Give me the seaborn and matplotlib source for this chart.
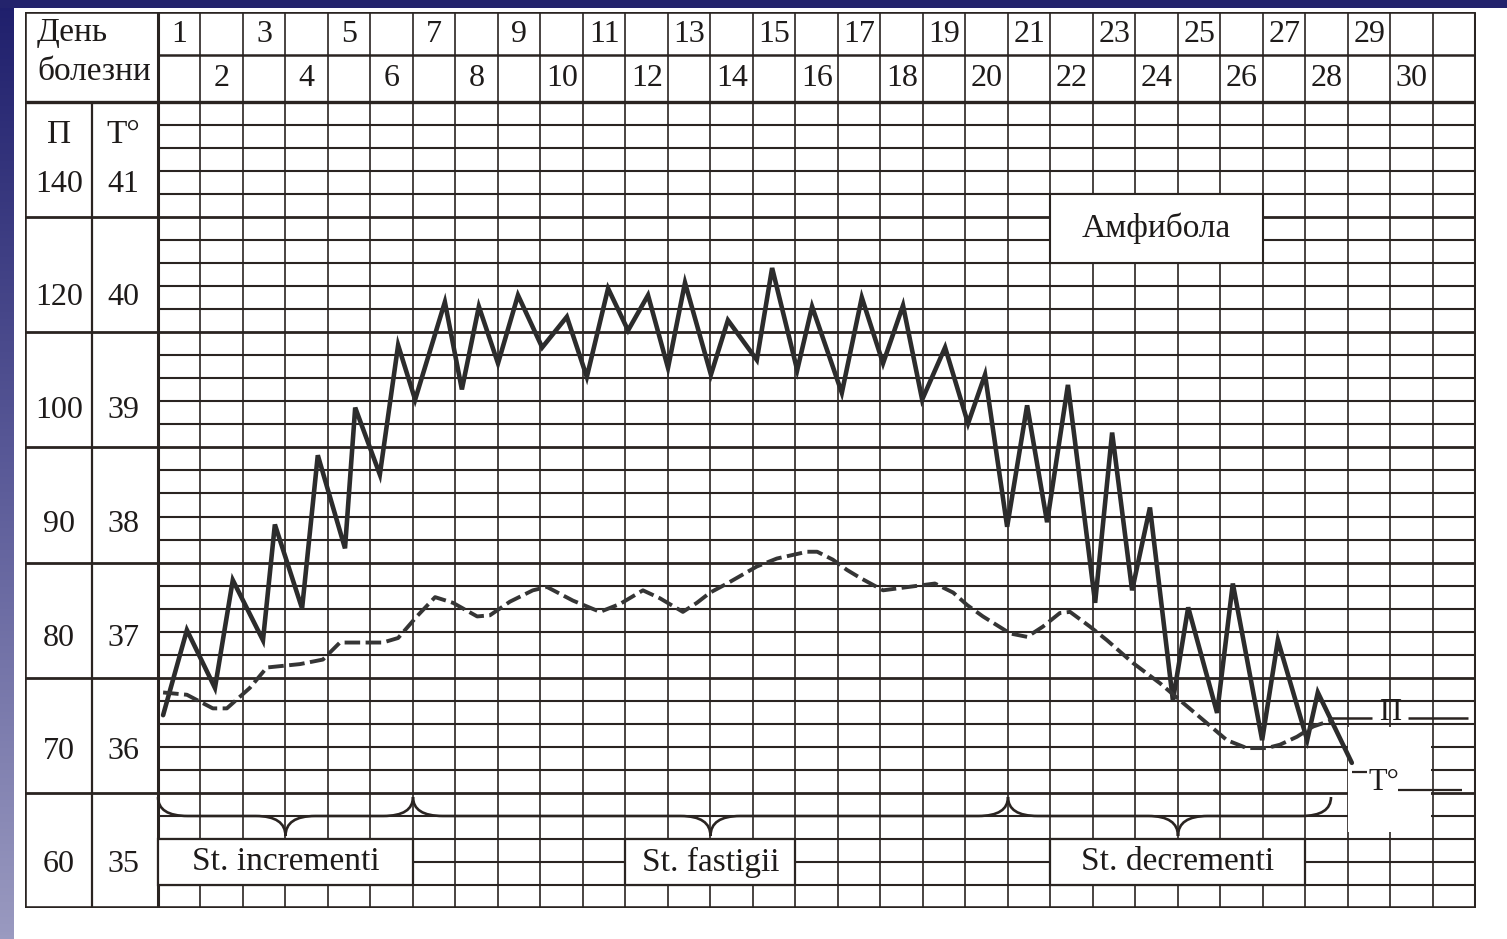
import numpy as np
import pandas as pd
import matplotlib
matplotlib.use("Agg")
import matplotlib.pyplot as plt
import seaborn as sns
from matplotlib.patches import Rectangle, PathPatch
from matplotlib.path import Path
from matplotlib.colors import LinearSegmentedColormap

# ---------------- data ----------------
day_numbers = list(range(1, 31))
pulse_scale = [60, 70, 80, 90, 100, 120, 140]
temp_scale = [35, 36, 37, 38, 39, 40, 41]

# temperature curve (zig-zag), time in days since onset, value in deg C
temp_time = [0.12, 0.68, 1.34, 1.76, 2.47, 2.75, 3.39, 3.76, 4.40, 4.64,
             5.22, 5.65, 6.05, 6.75, 7.15, 7.55, 8.00, 8.47, 9.04, 9.62,
             10.09, 10.59, 11.06, 11.53, 12.00, 12.40, 13.01, 13.41, 14.09, 14.45,
             15.04, 15.39, 16.09, 16.56, 17.06, 17.53, 17.98, 18.52, 19.06, 19.46,
             19.98, 20.45, 20.92, 21.41, 22.05, 22.45, 22.92, 23.34, 23.88, 24.24,
             24.92, 25.29, 25.98, 26.35, 27.04, 27.29, 28.09]
temp_values = [36.32, 37.07, 36.56, 37.51, 36.98, 38.00, 37.26, 38.61, 37.79, 39.03,
               38.44, 39.58, 39.10, 39.96, 39.19, 39.92, 39.42, 40.02, 39.56, 39.83,
               39.30, 40.08, 39.71, 40.02, 39.38, 40.13, 39.32, 39.80, 39.45, 40.26,
               39.36, 39.92, 39.16, 40.00, 39.42, 39.93, 39.10, 39.56, 38.89, 39.32,
               37.98, 39.05, 38.02, 39.23, 37.31, 38.81, 37.42, 38.15, 36.45, 37.27,
               36.34, 37.48, 36.10, 36.98, 36.10, 36.52, 35.90]

# pulse curve (dashed), beats per minute
pulse_time = [0.12, 0.68, 1.29, 1.62, 2.16, 2.56, 3.34, 3.88, 4.28, 5.29,
              5.65, 6.09, 6.52, 6.94, 7.51, 7.81, 8.28, 8.82, 9.15, 9.76,
              10.40, 10.87, 11.41, 11.81, 12.35, 12.68, 12.99, 13.39, 14.09, 14.56,
              15.27, 15.51, 15.88, 16.21, 16.52, 17.06, 17.46, 18.28, 18.71, 19.04,
              19.41, 20.05, 20.45, 20.82, 21.22, 21.46, 21.93, 22.33, 22.94, 23.58,
              24.05, 24.68, 25.15, 25.62, 26.09, 26.40, 26.80, 27.18, 27.65]
pulse_values = [75.2, 75.0, 73.8, 73.8, 75.6, 77.4, 77.7, 78.1, 79.6, 79.6,
                80.0, 81.9, 83.6, 83.1, 81.9, 82.0, 83.2, 84.2, 84.5, 83.3,
                82.3, 83.0, 84.2, 83.5, 82.3, 83.1, 84.0, 84.8, 86.3, 87.0,
                87.6, 87.6, 86.9, 86.0, 85.3, 84.2, 84.4, 84.8, 84.0, 82.9,
                81.9, 80.4, 80.1, 81.0, 82.2, 82.3, 81.0, 79.8, 77.8, 76.0,
                74.5, 72.5, 71.0, 70.3, 70.3, 70.6, 71.3, 72.2, 72.8]

header_title = ["День", "болезни"]
pulse_header, temp_header = "П", "T°"
amphibole_label = "Амфибола"
amphibole_days = (21, 26)
stage_names = ["St. incrementi", "St. fastigii", "St. decrementi"]
stage_braces = [(0, 6, 3), (6, 20, 13), (20, 27.6, 24)]
stage_label_days = [(0, 6), (11, 15), (21, 27)]

# ---------------- geometry (pixels on the 1507x939 canvas) ----------------
W, H = 1507, 939
PX_X0, PX_DAY = 158.0, 42.5      # left edge of day 1 column, column width
PX_T37, PX_DEG = 638.0, 113.5    # row of 37 degC, pixels per degree


def X(px):
    return (px - PX_X0) / PX_DAY


def Y(py):
    return 37 + (PX_T37 - py) / PX_DEG


sns.set_theme(style="white")
plt.rcParams["font.family"] = ["Liberation Serif", "DejaVu Serif"]

INK = "#2a2421"
TXT = "#1e1b1a"

fig = plt.figure(figsize=(W / 100, H / 100), dpi=100)
fig.patch.set_facecolor("white")

# blue slide frame
gx = fig.add_axes([0, 0, 14 / W, 1])
gx.axis("off")
cmap = LinearSegmentedColormap.from_list("frame", ["#1f1f6c", "#5a5a98", "#9a9ac0"])
gx.imshow(np.linspace(0, 1, 256).reshape(-1, 1), aspect="auto", cmap=cmap,
          extent=[0, 1, 0, 1], origin="upper")
fig.add_artist(Rectangle((0, 1 - 8 / H), 1, 8 / H, transform=fig.transFigure,
                         facecolor="#23236c", edgecolor="none"))

L, R, T, B = 25, 1475.5, 12, 908
ax = fig.add_axes([L / W, 1 - B / H, (R - L) / W, (B - T) / H])

# ---------------- data lines ----------------
df_t = pd.DataFrame({"day": temp_time, "value": temp_values})
sns.lineplot(data=df_t, x="day", y="value", ax=ax, color="#2c2c2c", lw=3.3,
             sort=False, estimator=None, legend=False, zorder=5,
             solid_joinstyle="miter")
pulse_axis = np.interp(pulse_values, pulse_scale, temp_scale)
df_p = pd.DataFrame({"day": pulse_time, "value": pulse_axis})
sns.lineplot(data=df_p, x="day", y="value", ax=ax, color="#353535", lw=2.8,
             sort=False, estimator=None, legend=False, zorder=5)
ax.get_lines()[-1].set_dashes((4, 1.4))

ax.set_xlim(X(L), X(R))
ax.set_ylim(Y(B), Y(T))
ax.axis("off")

# ---------------- table grid ----------------
row_py = np.linspace(102, 908, 36)
for k, py in enumerate(row_py):
    if k % 5 == 0:
        ax.hlines(Y(py), X(L), 31, color=INK, lw=2.0, zorder=1)
    else:
        ax.hlines(Y(py), 0, 31, color=INK, lw=1.5, zorder=1)
ax.vlines(np.arange(0, 32), Y(B), Y(T), color=INK, lw=1.2, zorder=1)
ax.vlines([0, 31], Y(B), Y(T), color=INK, lw=2.2, zorder=1)
ax.vlines(X(L), Y(B), Y(T), color=INK, lw=2.6, zorder=1)
ax.vlines(X(92), Y(B), Y(102), color=INK, lw=1.6, zorder=1)
ax.hlines([Y(T), Y(B)], X(L), 31, color=INK, lw=2.6, zorder=1)
ax.hlines(Y(102), X(L), 31, color=INK, lw=2.4, zorder=1)
ax.hlines(Y(55), 0, 31, color=INK, lw=1.8, zorder=1)

# ---------------- header texts ----------------
ax.text(X(37), Y(33), header_title[0], ha="left", va="center", fontsize=24, color=TXT)
ax.text(X(37), Y(72), header_title[1], ha="left", va="center", fontsize=24, color=TXT)
for d in day_numbers:
    ax.text(d - 0.5, Y(35) if d % 2 else Y(79), str(d), ha="center", va="center",
            fontsize=23, color=TXT)
ax.text(X(59), Y(135), pulse_header, ha="center", va="center", fontsize=24, color=TXT)
ax.text(X(123), Y(135), temp_header, ha="center", va="center", fontsize=24, color=TXT)
for p, t in zip(pulse_scale, temp_scale):
    ax.text(X(59), t, str(p), ha="center", va="center", fontsize=23, color=TXT)
    ax.text(X(123), t, str(t), ha="center", va="center", fontsize=23, color=TXT)

# ---------------- amphibole label ----------------
a0, a1 = amphibole_days
ax.add_patch(Rectangle((a0, Y(row_py[7])), a1 - a0, Y(row_py[4]) - Y(row_py[7]),
                       facecolor="white", edgecolor=INK, lw=1.5, zorder=2))
ax.text((a0 + a1) / 2, Y(228), amphibole_label, ha="center", va="center",
        fontsize=24, color=TXT, zorder=6)

# ---------------- stage braces and labels ----------------
y_end, y_mid, y_tip = Y(797), Y(816), Y(836)
r = 0.7
for x0, x1, xm in stage_braces:
    verts = [(x0, y_end), (x0, y_mid), (x0 + r, y_mid),
             (xm - r, y_mid),
             (xm, y_mid), (xm, y_tip),
             (xm, y_mid), (xm + r, y_mid),
             (x1 - r, y_mid),
             (x1, y_mid), (x1, y_end)]
    codes = [Path.MOVETO, Path.CURVE3, Path.CURVE3,
             Path.LINETO,
             Path.CURVE3, Path.CURVE3,
             Path.CURVE3, Path.CURVE3,
             Path.LINETO,
             Path.CURVE3, Path.CURVE3]
    ax.add_patch(PathPatch(Path(verts, codes), facecolor="none", edgecolor=INK,
                           lw=1.9, zorder=3))

for name, (s0, s1) in zip(stage_names, stage_label_days):
    ax.add_patch(Rectangle((s0, Y(row_py[34])), s1 - s0, Y(row_py[32]) - Y(row_py[34]),
                           facecolor="white", edgecolor=INK, lw=1.6, zorder=2))
    ax.text((s0 + s1) / 2, Y(862), name, ha="center", va="center", fontsize=24,
            color=TXT, zorder=6)

# ---------------- curve labels (П / T°) ----------------
ax.add_patch(Rectangle((28.0, Y(832)), 1.95, Y(727) - Y(832), facecolor="white",
                       edgecolor="none", zorder=2))
ax.hlines(Y(718), X(1330), X(1372), color=INK, lw=1.8, zorder=3)
ax.hlines(Y(718), X(1408), X(1468), color=INK, lw=1.8, zorder=3)
ax.text(X(1390), Y(713), pulse_header, ha="center", va="center", fontsize=22,
        color=TXT, zorder=6)
ax.hlines(Y(772), X(1352), X(1367), color=INK, lw=1.6, zorder=3)
ax.hlines(Y(790), X(1398), X(1462), color=INK, lw=1.6, zorder=3)
ax.text(X(1384), Y(783), temp_header, ha="center", va="center", fontsize=22,
        color=TXT, zorder=6)

fig.savefig("out.png", dpi=100, facecolor="white")
